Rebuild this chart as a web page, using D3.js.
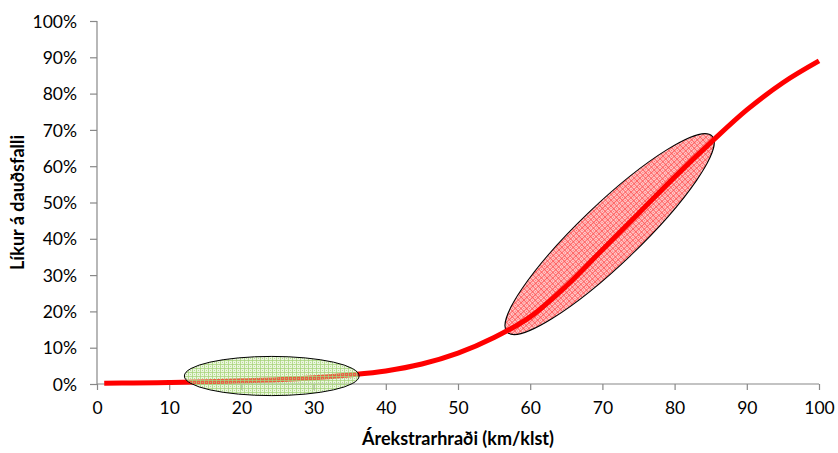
<!DOCTYPE html>
<html>
<head>
<meta charset="utf-8">
<script src="https://cdn.jsdelivr.net/npm/d3@7/dist/d3.min.js"></script>
<style>
  html, body { margin: 0; padding: 0; background: #fff; }
  svg { display: block; }
  text { font-family: Lato, "Open Sans", sans-serif; fill: #000; }
</style>
</head>
<body>
<svg id="chart" width="838" height="453"></svg>
<script>
// Speed (km/klst) and probability of fatality (%)
const speeds = [1, 5, 10, 15, 20, 25, 30, 35, 40, 45, 50, 55, 60, 65, 70, 75, 80, 85, 90, 95, 100];
const probs  = [0.2, 0.3, 0.4, 0.6, 0.9, 1.2, 1.7, 2.5, 3.6, 5.5, 8.5, 12.8, 18.5, 27, 37, 47, 57, 66.5, 75.5, 83, 89];
const xTicks = [0, 10, 20, 30, 40, 50, 60, 70, 80, 90, 100];
const yTicks = [0, 10, 20, 30, 40, 50, 60, 70, 80, 90, 100];
// Highlight ellipses (data coordinates)
const lowZone  = { x0: 12.1, x1: 36.3, y: 2.2, halfH: 5.4 };
const highZone = { x0: 56.8, y0: 14.3, x1: 85.2, y1: 68.3, halfW: 30 };

const svg = d3.select("#chart");
const m = { left: 97, right: 19, top: 21, bottom: 69 };
const W = 838, H = 453;
const x = d3.scaleLinear().domain([0, 100]).range([m.left, W - m.right]);
const y = d3.scaleLinear().domain([0, 100]).range([H - m.bottom, m.top]);

// patterns
const defs = svg.append("defs");
function pat(id, col, bg) {
  const p = defs.append("pattern").attr("id", id).attr("patternUnits", "userSpaceOnUse")
    .attr("width", 4).attr("height", 4);
  p.append("rect").attr("width", 4).attr("height", 4).attr("fill", bg);
  p.append("rect").attr("x", 0).attr("y", 0).attr("width", 4).attr("height", 1).attr("fill", col);
  p.append("rect").attr("x", 0).attr("y", 0).attr("width", 1).attr("height", 4).attr("fill", col);
  p.append("rect").attr("x", 2).attr("y", 2).attr("width", 1).attr("height", 1).attr("fill", col);
}
pat("pGreen", "rgba(165,212,120,0.75)", "rgba(205,232,175,0.4)");
pat("pRed", "rgba(255,90,90,0.9)", "rgba(255,200,200,0.9)");

// axes
const axisColor = "#888";
const yAxis = svg.append("g").attr("transform", `translate(${m.left},0)`)
  .call(d3.axisLeft(y).tickValues(yTicks).tickSize(7).tickFormat(d => d + "%"));
const xAxis = svg.append("g").attr("transform", `translate(0,${H - m.bottom})`)
  .call(d3.axisBottom(x).tickValues(xTicks).tickSize(6).tickFormat(d3.format("d")));
[yAxis, xAxis].forEach(g => {
  g.select(".domain").attr("stroke", axisColor).attr("stroke-width", 1.2);
  g.selectAll(".tick line").attr("stroke", axisColor).attr("stroke-width", 1.2);
  g.selectAll(".tick text").style("font-size", "17.5px").attr("fill", "#111");
});
yAxis.selectAll(".tick text").attr("x", -20).attr("dy", "0.35em");
xAxis.selectAll(".tick text").attr("y", 18).attr("dy", "0.71em");
yAxis.select(".domain").attr("d", `M0,${y(0)}V${y(100)}`);
xAxis.select(".domain").attr("d", `M${x(0)},0H${x(100)}`);

// high-speed ellipse (beneath the curve)
{
  const ax = x(highZone.x0), ay = y(highZone.y0), bx = x(highZone.x1), by = y(highZone.y1);
  const cx = (ax + bx) / 2, cy = (ay + by) / 2;
  const rx = Math.hypot(bx - ax, by - ay) / 2;
  const ang = Math.atan2(by - ay, bx - ax) * 180 / Math.PI;
  svg.append("ellipse").attr("cx", 0).attr("cy", 0).attr("rx", rx).attr("ry", highZone.halfW)
    .attr("transform", `translate(${cx},${cy}) rotate(${ang})`)
    .attr("fill", "url(#pRed)").attr("stroke", "#000").attr("stroke-width", 1);
}

// curve
const line = d3.line().x((d, i) => x(speeds[i])).y(d => y(d)).curve(d3.curveCatmullRom);
svg.append("path").datum(probs).attr("d", line)
  .attr("fill", "none").attr("stroke", "#ff0000").attr("stroke-width", 5).attr("stroke-linecap", "butt");

// low-speed ellipse (over the curve)
{
  const cx = (x(lowZone.x0) + x(lowZone.x1)) / 2, cy = y(lowZone.y);
  const rx = (x(lowZone.x1) - x(lowZone.x0)) / 2, ry = y(0) - y(lowZone.halfH);
  svg.append("ellipse").attr("cx", cx).attr("cy", cy).attr("rx", rx).attr("ry", ry)
    .attr("fill", "url(#pGreen)").attr("stroke", "#000").attr("stroke-width", 1);
}

// titles
svg.append("text").attr("x", (x(0) + x(100)) / 2).attr("y", 445).attr("text-anchor", "middle")
  .style("font-size", "18px").style("font-weight", "bold").text("Árekstrarhraði (km/klst)");
svg.append("text").attr("transform", `translate(24,${(y(0) + y(100)) / 2}) rotate(-90)`)
  .attr("text-anchor", "middle").style("font-size", "18px").style("font-weight", "bold")
  .text("Líkur á dauðsfalli");
</script>
</body>
</html>
